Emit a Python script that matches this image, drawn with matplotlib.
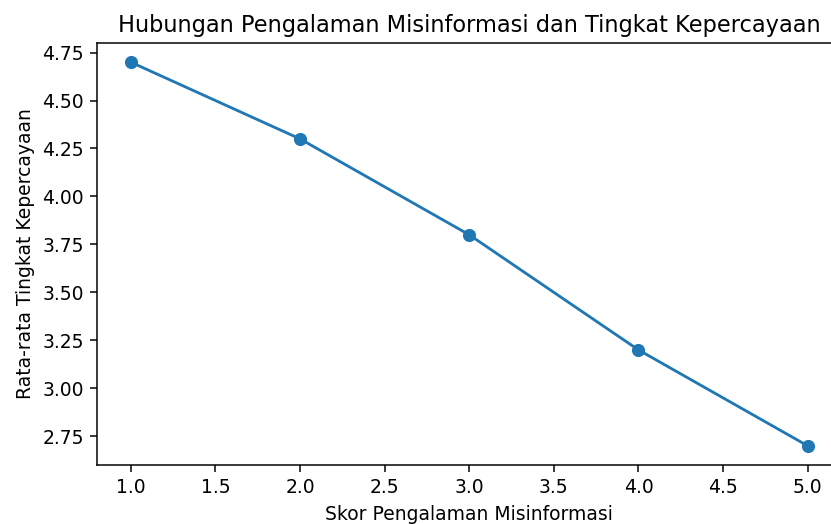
import matplotlib
matplotlib.use("Agg")
import matplotlib.pyplot as plt

skor = [1, 2, 3, 4, 5]
kepercayaan = [4.7, 4.3, 3.8, 3.2, 2.7]

DPI = 135
fig = plt.figure(figsize=(831 / DPI, 524 / DPI), dpi=DPI)
left, right, top, bottom = 97, 841.5, 43, 465
ax = fig.add_axes([left / 831, 1 - bottom / 524, (right - left) / 831, (bottom - top) / 524])
ax.plot(skor, kepercayaan, marker='o', color='#1f77b4')
ax.set_title("Hubungan Pengalaman Misinformasi dan Tingkat Kepercayaan")
ax.set_xlabel("Skor Pengalaman Misinformasi")
ax.set_ylabel("Rata-rata Tingkat Kepercayaan")
fig.savefig("out.png", dpi=DPI)
